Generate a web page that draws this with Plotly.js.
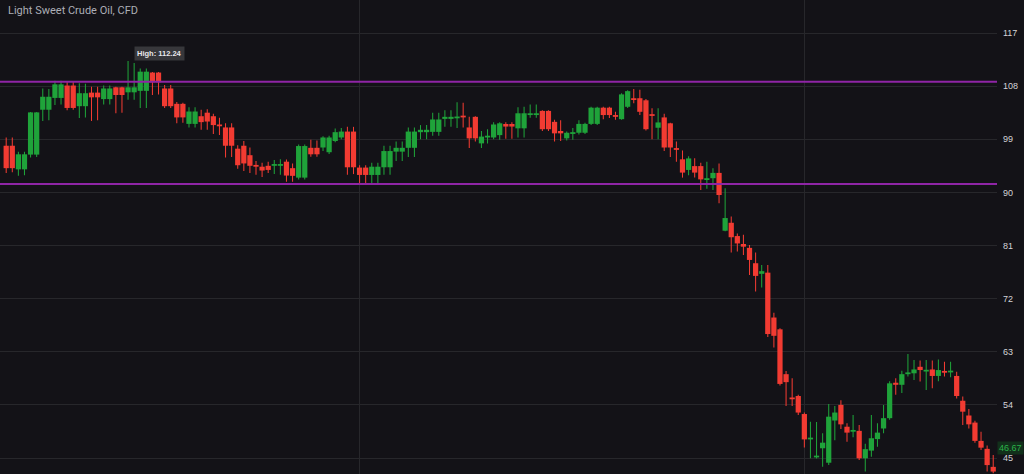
<!DOCTYPE html>
<html>
<head>
<meta charset="utf-8">
<script src="https://cdn.plot.ly/plotly-3.0.1.min.js"></script>
<style>
  html, body { margin: 0; padding: 0; background: #131217; }
  #chart { width: 1024px; height: 474px; }
</style>
</head>
<body>
<div id="chart"></div>
<script>
// Candle values (one per session)
const opens = [
  97.9, 97.9, 93.9, 93.9, 96.4, 96.4, 104.0, 104.0, 106.0, 106.0,
  108.1, 108.1, 104.6, 104.6, 106.9, 106.9, 105.8, 105.8, 107.8, 107.8,
  106.95, 106.95, 107.2, 107.2, 110.3, 110.3, 107.6, 107.6, 105.0, 105.0,
  101.6, 101.6, 102.9, 103.5, 102.9, 101.4, 101.0, 101.0, 97.4, 97.9,
  96.3, 94.6, 94.35, 94.5, 94.5, 94.5, 95.2, 94.1, 92.5, 92.5,
  97.55, 97.55, 97.6, 96.8, 98.7, 99.3, 100.3, 100.3, 94.2, 94.2,
  92.95, 92.95, 94.25, 94.25, 96.9, 96.9, 97.55, 97.55, 100.2, 100.2,
  100.25, 100.25, 102.45, 102.45, 102.55, 102.95, 101.0, 102.8, 98.3, 99.3,
  99.3, 99.7, 101.58, 101.58, 100.85, 100.85, 103.1, 103.1, 103.8, 103.8,
  101.95, 100.4, 99.15, 99.9, 100.1, 100.1, 101.6, 101.6, 104.35, 104.35,
  103.1, 102.4, 104.5, 105.95, 105.95, 105.6, 103.25, 100.95, 102.7, 101.7,
  97.45, 95.6, 93.8, 94.45, 94.45, 92.1, 92.4, 93.3, 83.5, 84.85,
  82.6, 81.25, 80.6, 78.0, 76.2, 76.4, 68.8, 66.8, 59.2, 55.2,
  55.5, 52.45, 48.15, 45.1, 46.65, 44.2, 51.35, 54.0, 50.3, 49.45,
  49.6, 44.95, 46.25, 48.2, 50.0, 51.75, 57.75, 57.4, 59.2, 59.35,
  60.45, 59.65, 60.0, 58.9, 59.75, 59.5, 58.9, 54.7, 52.2, 51.0,
  47.9, 46.55, 43.5
];
const highs = [
  99.3, 99.3, 96.9, 96.9, 103.6, 103.6, 107.6, 107.5, 108.9, 108.9,
  108.8, 108.8, 108.5, 108.4, 107.9, 107.9, 108.1, 108.1, 107.9, 107.9,
  112.24, 111.9, 111.0, 111.0, 110.4, 110.4, 108.2, 108.2, 105.3, 105.2,
  104.4, 104.4, 104.0, 104.1, 103.3, 102.65, 101.7, 101.7, 98.0, 98.7,
  97.6, 95.3, 95.0, 95.2, 95.5, 95.6, 95.55, 94.9, 98.1, 98.1,
  98.9, 98.8, 99.5, 99.6, 100.8, 100.9, 101.1, 101.1, 94.6, 94.6,
  95.0, 95.0, 97.9, 97.9, 98.6, 98.6, 101.0, 101.0, 101.4, 101.4,
  103.5, 103.5, 103.9, 103.9, 105.25, 105.2, 102.8, 102.9, 100.4, 100.7,
  101.9, 101.9, 101.9, 101.9, 104.4, 104.5, 104.9, 104.9, 103.9, 103.9,
  102.3, 102.2, 100.3, 100.9, 102.2, 101.8, 104.5, 104.5, 104.5, 104.5,
  103.65, 106.8, 107.3, 107.5, 107.4, 105.8, 104.25, 104.25, 103.3, 101.8,
  98.6, 97.1, 96.1, 95.8, 95.0, 95.2, 94.1, 94.9, 90.7, 85.9,
  83.05, 82.8, 81.1, 79.8, 77.7, 77.7, 69.6, 67.0, 59.75, 58.5,
  55.7, 52.7, 51.15, 51.1, 49.2, 54.15, 53.8, 54.8, 50.9, 52.3,
  50.6, 47.4, 52.3, 50.9, 54.0, 58.0, 58.5, 59.8, 62.6, 61.6,
  61.5, 61.6, 61.5, 61.7, 61.3, 61.3, 59.6, 55.4, 53.3, 51.3,
  49.45, 47.1, 45.5
];
const lows = [
  93.3, 93.4, 92.8, 92.9, 95.9, 96.0, 102.1, 102.2, 104.8, 104.9,
  103.9, 104.0, 102.6, 102.7, 102.1, 102.2, 104.9, 104.9, 103.4, 103.5,
  105.7, 105.7, 104.3, 104.3, 106.5, 106.6, 104.3, 104.3, 101.7, 101.8,
  101.0, 101.0, 100.6, 100.6, 99.9, 99.7, 95.9, 96.0, 94.0, 93.6,
  93.3, 93.0, 92.6, 93.3, 93.1, 93.0, 91.8, 91.8, 92.2, 92.2,
  96.05, 96.05, 97.0, 96.5, 98.5, 99.0, 93.0, 93.1, 91.4, 91.4,
  91.5, 91.5, 93.0, 93.0, 95.3, 95.3, 96.0, 96.0, 99.0, 99.0,
  99.6, 99.6, 101.1, 101.1, 100.9, 101.0, 97.5, 98.6, 97.5, 98.3,
  99.0, 98.9, 99.1, 99.1, 99.3, 99.3, 102.65, 102.65, 100.4, 100.4,
  98.6, 98.7, 98.8, 98.9, 99.8, 99.9, 101.4, 101.4, 102.4, 102.6,
  102.3, 102.3, 104.3, 105.1, 103.1, 100.5, 99.0, 99.0, 97.0, 96.0,
  95.2, 92.5, 92.9, 92.5, 90.4, 90.6, 90.4, 88.15, 83.4, 79.8,
  80.0, 79.4, 76.0, 73.2, 73.9, 65.5, 63.7, 57.3, 53.8, 53.8,
  52.3, 46.8, 44.95, 44.9, 43.5, 43.8, 48.0, 49.9, 47.75, 48.5,
  44.65, 42.7, 45.2, 46.9, 49.2, 51.5, 55.7, 56.0, 58.8, 58.2,
  57.95, 56.5, 56.8, 58.0, 58.8, 58.7, 55.1, 50.6, 50.0, 47.6,
  46.35, 42.7, 42.4
];
const closes = [
  94.1, 94.1, 96.45, 96.45, 103.55, 103.55, 106.2, 106.2, 108.3, 108.3,
  104.3, 104.3, 106.8, 106.8, 106.1, 106.1, 107.6, 107.6, 106.5, 106.5,
  107.8, 107.8, 110.45, 110.45, 108.65, 108.65, 104.6, 104.6, 102.7, 102.7,
  103.7, 103.7, 101.9, 102.0, 101.4, 101.2, 97.9, 97.9, 94.6, 94.9,
  94.5, 94.35, 93.7, 93.8, 94.8, 94.8, 92.85, 92.8, 97.85, 97.85,
  96.45, 96.45, 99.3, 99.3, 100.2, 100.3, 94.25, 94.25, 92.95, 92.95,
  94.35, 94.35, 97.0, 97.0, 97.55, 97.55, 100.3, 100.3, 100.6, 100.6,
  102.35, 102.35, 102.8, 102.8, 102.7, 102.7, 99.15, 99.15, 99.45, 99.6,
  101.5, 101.7, 101.15, 101.15, 103.4, 103.4, 103.4, 103.4, 100.7, 100.7,
  100.0, 100.0, 100.1, 100.2, 101.6, 101.6, 104.35, 104.35, 103.1, 103.1,
  102.8, 106.6, 107.15, 105.65, 103.65, 100.7, 102.95, 101.85, 97.6, 97.6,
  97.2, 93.35, 95.75, 93.35, 92.2, 92.4, 93.3, 89.55, 85.65, 82.4,
  81.35, 80.8, 78.55, 75.85, 76.65, 66.0, 65.7, 57.55, 57.85, 54.95,
  52.7, 48.15, 48.45, 45.4, 47.6, 52.0, 52.7, 50.7, 49.3, 49.75,
  44.95, 46.5, 48.35, 49.3, 51.75, 57.65, 57.4, 59.2, 59.5, 60.0,
  59.9, 59.9, 58.9, 59.9, 59.45, 59.6, 55.5, 52.85, 50.7, 47.9,
  46.75, 43.8, 42.7
];

const priceTicks = [45, 54, 63, 72, 81, 90, 99, 108, 117];
const priceTickLabels = ['45', '54', '63', '72', '81', '90', '99', '108', '117'];
const sessionGridAt = [58, 131];
const levelLines = [108.75, 91.4];
const highValue = 112.24;
const highIndex = 20;
const lastPrice = 46.67;
const titleText = 'Light Sweet Crude Oil, CFD';

const UP = '#1fa33a';
const DOWN = '#f23b32';

function collect(up) {
  const r = {x: [], wickBase: [], wickLen: [], bodyBase: [], bodyLen: []};
  for (let i = 0; i < opens.length; i++) {
    const isUp = closes[i] >= opens[i];
    if (isUp !== up) continue;
    r.x.push(i);
    r.wickBase.push(lows[i]);
    r.wickLen.push(highs[i] - lows[i]);
    const lo = Math.min(opens[i], closes[i]);
    r.bodyBase.push(lo);
    r.bodyLen.push(Math.max(Math.abs(closes[i] - opens[i]), 0.3));
  }
  return r;
}
const upC = collect(true), dnC = collect(false);

function wick(c, color) {
  return {type: 'bar', x: c.x, y: c.wickLen, base: c.wickBase, width: 0.17,
    marker: {color: color, line: {width: 0}}, hoverinfo: 'skip', showlegend: false};
}
function body(c, color) {
  return {type: 'bar', x: c.x, y: c.bodyLen, base: c.bodyBase, width: 0.86,
    marker: {color: color, line: {width: 0}}, hoverinfo: 'skip', showlegend: false};
}

const data = [wick(upC, UP), wick(dnC, DOWN), body(upC, UP), body(dnC, DOWN)];

const shapes = levelLines.map(v => ({
  type: 'line', xref: 'paper', x0: 0, x1: 1, yref: 'y', y0: v, y1: v,
  line: {color: '#8f25a6', width: 2}
}));

const layout = {
  width: 1024, height: 474,
  margin: {l: 0, r: 27, t: 0, b: 0},
  paper_bgcolor: '#131217',
  plot_bgcolor: '#131217',
  barmode: 'overlay',
  showlegend: false,
  hovermode: false,
  xaxis: {
    range: [-1.018, 162.62],
    tickvals: sessionGridAt,
    showticklabels: false,
    showgrid: true, gridcolor: '#27272b', gridwidth: 1,
    zeroline: false, showline: false, ticks: ''
  },
  yaxis: {
    side: 'right',
    range: [42.29, 122.59],
    tickvals: priceTicks,
    ticktext: priceTickLabels,
    showgrid: true, gridcolor: '#27272b', gridwidth: 1,
    zeroline: false, showline: false, ticks: '',
    ticklabelstandoff: 5,
    tickfont: {family: 'Liberation Sans, Arial, sans-serif', size: 9, color: '#d4d4d8'}
  },
  shapes: shapes,
  annotations: [
    {xref: 'paper', yref: 'paper', x: 0, y: 1, xanchor: 'left', yanchor: 'top',
     xshift: 6, yshift: -2, showarrow: false, text: titleText,
     font: {family: 'Roboto, Liberation Sans, sans-serif', size: 11, color: '#acaeb6'}},
    {xref: 'x', yref: 'y', x: highIndex, y: highValue, xanchor: 'left', yanchor: 'bottom',
     xshift: 6, yshift: 0, showarrow: false, text: '<b>High: ' + highValue.toFixed(2) + '</b>',
     bgcolor: '#37373b', borderpad: 2,
     font: {family: 'Liberation Sans, Arial, sans-serif', size: 7.5, color: '#e8e8ec'}},
    {xref: 'paper', yref: 'y', x: 1, y: lastPrice, xanchor: 'left', yanchor: 'middle',
     xshift: 0, showarrow: false, text: lastPrice.toFixed(2),
     bgcolor: '#12301b', borderpad: 1,
     font: {family: 'Liberation Sans, Arial, sans-serif', size: 9, color: '#2bb24a'}}
  ]
};

Plotly.newPlot('chart', data, layout, {staticPlot: true, displayModeBar: false});
</script>
</body>
</html>
